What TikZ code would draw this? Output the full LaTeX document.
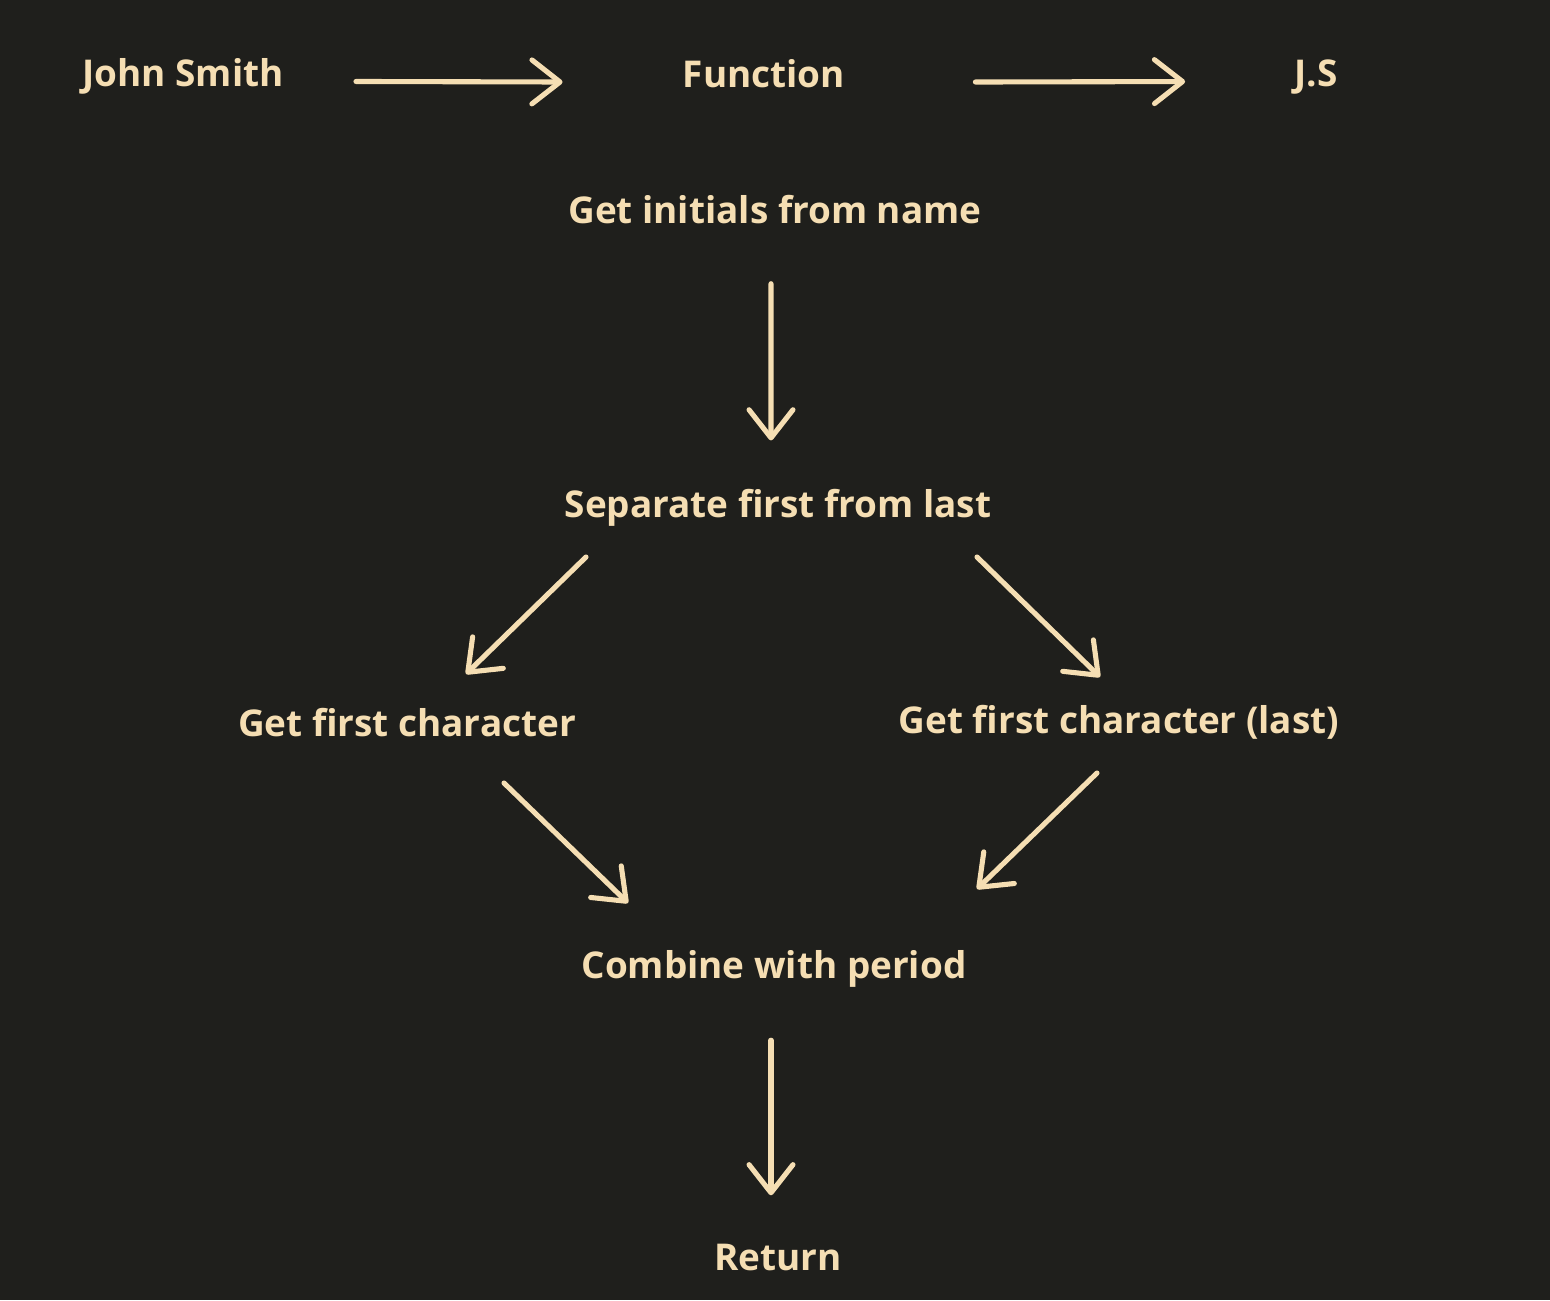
\documentclass[tikz,border=0pt]{standalone}
\usepackage{fontspec}
\setmainfont{Open Sans}
\usetikzlibrary{arrows.meta}
\definecolor{board}{HTML}{1F1F1C}
\definecolor{chalk}{HTML}{F5DEB3}
\begin{document}
\begin{tikzpicture}[
	every node/.style={text=chalk,inner sep=0pt,anchor=base,font=\fontsize{21}{25}\selectfont\bfseries},
	arr/.style={draw=chalk,line width=2.9pt,line cap=round,-{Straight Barb[length=16pt,width=25pt,round]}}]
	\fill[board](0,0)rectangle(31,-26);
	\node(john)at(3.66,-1.72){John Smith};
	\node(func)at(15.28,-1.74){Function};
	\node(js)at(26.32,-1.72){J.S};
	\node(initials)at(15.5,-4.46){Get initials from name};
	\node(separate)at(15.56,-10.34){Separate first from last};
	\node(firstch)at(8.14,-14.72){Get first character};
	\node(lastch)at(22.38,-14.66){Get first character (last)};
	\node(combine)at(15.48,-19.56){Combine with period};
	\node(ret)at(15.56,-25.4){Return};
	% loose arrow ends
	\coordinate(sepL)at(11.72,-11.14);\coordinate(firstT)at(9.32,-13.48);
	\coordinate(sepR)at(19.54,-11.14);\coordinate(lastT)at(22,-13.54);
	\coordinate(firstB)at(10.08,-15.66);\coordinate(combL)at(12.56,-18.06);
	\coordinate(lastB)at(21.94,-15.46);\coordinate(combR)at(19.54,-17.78);
	\draw[arr,shorten <=1.44cm,shorten >=2.4cm](john.mid east)--(func.mid west);
	\draw[arr,shorten <=2.6cm,shorten >=2.18cm](func.mid east)--(js.mid west);
	\draw[arr,shorten <=1.2cm,shorten >=0.96cm]([xshift=-0.08cm]initials.south)--([xshift=-0.14cm]separate.north);
	\draw[arr](sepL)--(firstT);
	\draw[arr](sepR)--(lastT);
	\draw[arr](firstB)--(combL);
	\draw[arr](lastB)--(combR);
	\draw[arr,shorten <=1.06cm,shorten >=0.96cm]([xshift=-0.06cm]combine.south)--([xshift=-0.14cm]ret.north);
\end{tikzpicture}
\end{document}
